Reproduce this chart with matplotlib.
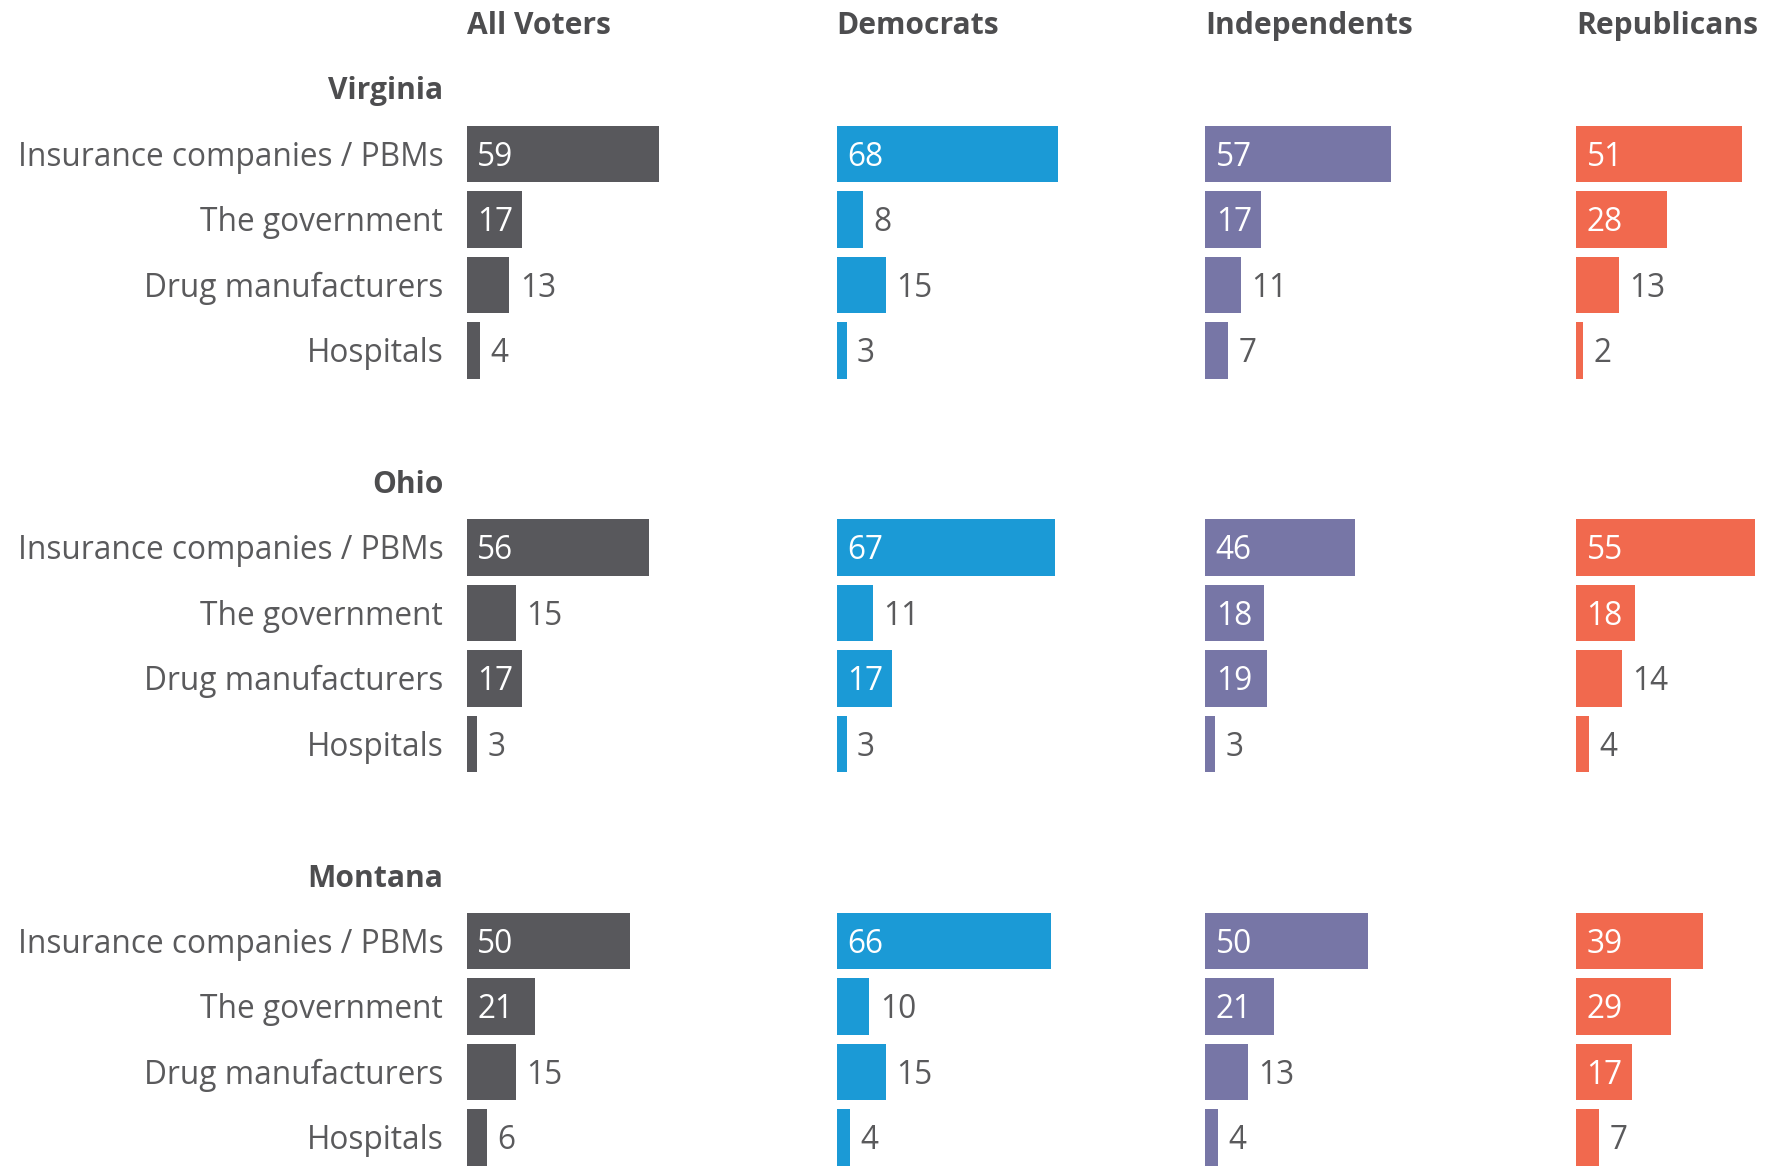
import matplotlib
matplotlib.use("Agg")
import matplotlib.pyplot as plt

groups = ["Virginia", "Ohio", "Montana"]
categories = ["Insurance companies / PBMs", "The government", "Drug manufacturers", "Hospitals"]
columns = ["All Voters", "Democrats", "Independents", "Republicans"]

all_voters = [[59, 17, 13, 4], [56, 15, 17, 3], [50, 21, 15, 6]]
democrats = [[68, 8, 15, 3], [67, 11, 17, 3], [66, 10, 15, 4]]
independents = [[57, 17, 11, 7], [46, 18, 19, 3], [50, 21, 13, 4]]
republicans = [[51, 28, 13, 2], [55, 18, 14, 4], [39, 29, 17, 7]]

series = [all_voters, democrats, independents, republicans]
colors = ["#58585c", "#1b9ad6", "#7776a6", "#f1694e"]

TEXT = "#5a5a5c"
HEAD = "#4d4d4f"
FONT = "Open Sans"
FS_HEAD = 21.6
FS_LAB = 22.8

W, H = 1773, 1167
fig = plt.figure(figsize=(W / 100, H / 100), dpi=100)

col_left = [413, 740, 1066, 1394]  # displayed px (of 1568)
px_per_unit = 2.875
xmax = 120
row0 = 20
row_h = 58
ylim_top = -row0 / row_h
ylim_bot = (1032 - row0) / row_h
DY = 0.05

axes = []
for ci, x0 in enumerate(col_left):
    width_px = xmax * px_per_unit
    ax = fig.add_axes([x0 / 1568, 0, width_px / 1568, 1])
    ax.set_xlim(0, xmax)
    ax.set_ylim(ylim_bot, ylim_top)
    ax.axis("off")
    axes.append(ax)

for ci, ax in enumerate(axes):
    ax.text(0, DY, columns[ci], ha="left", va="center", fontsize=FS_HEAD,
            fontweight="bold", color=HEAD, family=FONT, clip_on=False)
    for gi, g in enumerate(groups):
        base = 1 + gi * 6
        vals = series[ci][gi]
        ys = [base + 1 + k for k in range(len(categories))]
        ax.barh(ys, vals, height=0.86, color=colors[ci], left=0)
        for y, v in zip(ys, vals):
            if v >= 16:
                ax.text(3.2, y + DY, str(v), ha="left", va="center", fontsize=FS_LAB,
                        color="white", family=FONT)
            else:
                ax.text(v + 3.2, y + DY, str(v), ha="left", va="center", fontsize=FS_LAB,
                        color=TEXT, family=FONT)

ax0 = axes[0]
lab_x = (392 - 413) / px_per_unit
for gi, g in enumerate(groups):
    base = 1 + gi * 6
    ax0.text(lab_x, base + DY, g, ha="right", va="center", fontsize=FS_HEAD,
             fontweight="bold", color=HEAD, family=FONT, clip_on=False)
    for k, c in enumerate(categories):
        ax0.text(lab_x, base + 1 + k + DY, c, ha="right", va="center", fontsize=FS_LAB,
                 color=TEXT, family=FONT, clip_on=False)

fig.savefig("out.png", dpi=100, facecolor="white")
